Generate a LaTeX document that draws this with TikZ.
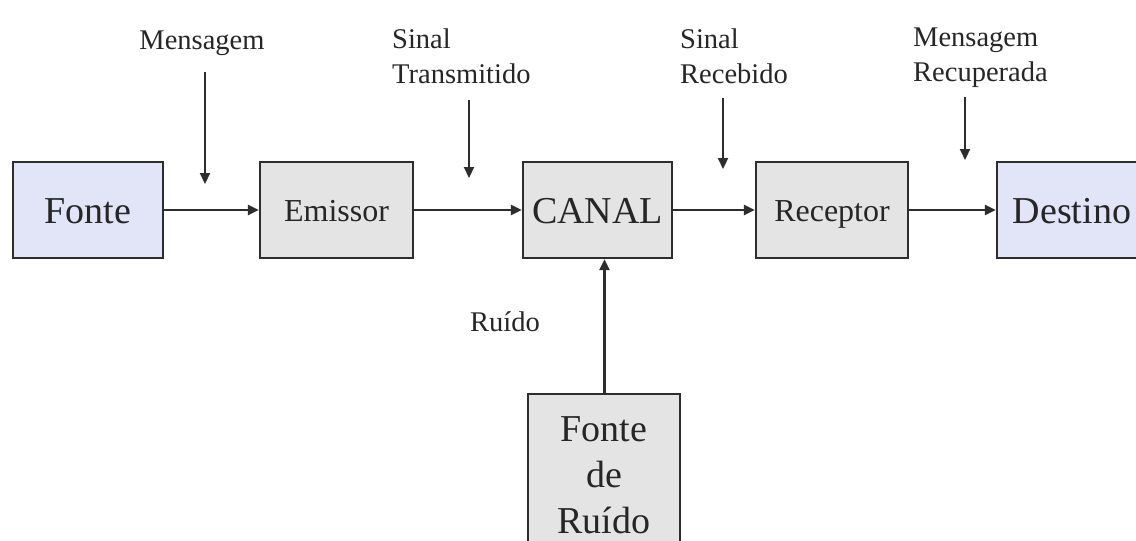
\documentclass[tikz,border=0pt]{standalone}
\usepackage{fontspec}
\setmainfont{Liberation Serif}
\usetikzlibrary{arrows.meta}
\definecolor{lav}{RGB}{226,228,248}
\definecolor{boxgray}{RGB}{228,228,228}
\definecolor{edge}{RGB}{45,45,45}
\begin{document}
\begin{tikzpicture}[x=1pt,y=-1pt,
  blk/.style={draw=edge,line width=2.2pt,inner sep=0pt,minimum height=96pt,text=black!85},
  bigtxt/.style={font=\fontsize{38}{46}\selectfont,text height=26pt,text depth=0pt},
  midtxt/.style={font=\fontsize{32}{38}\selectfont,text height=23pt,text depth=0pt},
  lbl/.style={font=\fontsize{28.5}{35}\selectfont,align=left,inner sep=0pt,text=black!85},
  conn/.style={draw=edge,line width=2.2pt,-{Triangle[length=11pt,width=10pt]}}]
\useasboundingbox (0,0) rectangle (1136,541);
\begin{scope}
\clip (0,0) rectangle (1136,541);
\node[blk,bigtxt,fill=lav,minimum width=150pt] (fonte) at (88,210) {Fonte};
\node[blk,midtxt,fill=boxgray,minimum width=153pt] (emissor) at (336.5,210) {Emissor};
\node[blk,bigtxt,fill=boxgray,minimum width=149pt] (canal) at (597.5,210) {CANAL};
\node[blk,midtxt,fill=boxgray,minimum width=152pt] (receptor) at (832,210) {Receptor};
\node[blk,bigtxt,fill=lav,minimum width=150pt] (destino) at (1072,210) {Destino};
\node[blk,fill=boxgray,minimum width=152pt,minimum height=162pt,anchor=north,align=center,
  font=\fontsize{38}{46}\selectfont] (ruido) at (604,393) {Fonte\\de\\Ruído};

\draw[conn] (fonte) -- (emissor);
\draw[conn] (emissor) -- (canal);
\draw[conn] (canal) -- (receptor);
\draw[conn] (receptor) -- (destino);
\draw[conn] (ruido.north -| canal.south) ++(7,0) coordinate (rs) -- (rs |- canal.south);

\node[lbl] (lmsg) at (202,43) {Mensagem};
\node[lbl,anchor=west] (ltx) at (392,56) {Sinal\\Transmitido};
\node[lbl,anchor=west] (lrx) at (680,56) {Sinal\\Recebido};
\node[lbl,anchor=west] (lrec) at (913,58) {Mensagem\\Recuperada};
\node[lbl] (lru) at (505,322) {Ruído};

\coordinate (a1) at (205,72);  \coordinate (b1) at (205,184);
\coordinate (a2) at (469,100); \coordinate (b2) at (469,178);
\coordinate (a3) at (723,98);  \coordinate (b3) at (723,169);
\coordinate (a4) at (965,97);  \coordinate (b4) at (965,160);
\draw[conn] (a1) -- (b1);
\draw[conn] (a2) -- (b2);
\draw[conn] (a3) -- (b3);
\draw[conn] (a4) -- (b4);
\end{scope}
\end{tikzpicture}
\end{document}
